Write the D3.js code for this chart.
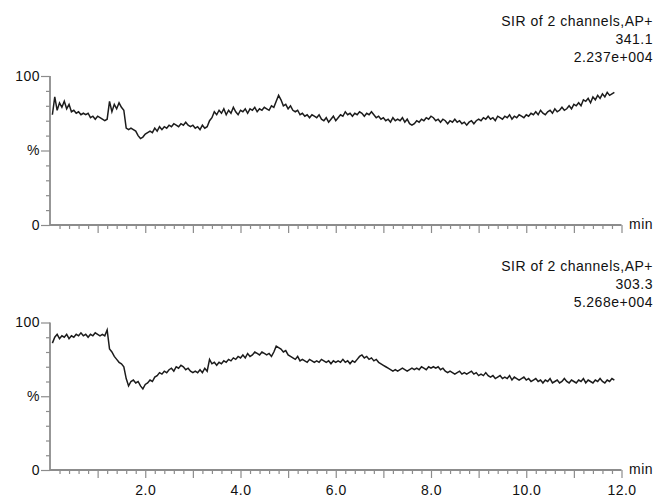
<!DOCTYPE html>
<html>
<head>
<meta charset="utf-8">
<script src="https://cdn.jsdelivr.net/npm/d3@7"></script>
<style>
  html, body { margin: 0; padding: 0; background: #fff; }
  svg { display: block; }
  text { font-family: "Liberation Sans", Arial, sans-serif; fill: #111; }
</style>
</head>
<body>
<div id="chart"></div>
<script>
// ---- data (relative intensity %, sampled every 0.05 min from 0.05 min) ----
const sampleStart = 0.05;
const sampleStep = 0.05;

const topValues = [
  74,86,77,82,79,83,78,81,76,77,75,76,74,75,74,75,72,73,71,73,
  72,71,70,71,83,76,81,78,82,79,77,65,64,65,64,63,60,58,59,61,
  62,63,62,65,63,66,64,66,65,67,66,68,67,66,68,67,69,67,66,67,
  65,66,64,67,65,66,70,72,76,74,77,75,78,74,77,75,79,76,74,77,
  76,78,75,78,77,79,76,78,77,79,78,77,80,79,83,87,84,80,81,78,
  80,77,76,77,74,75,73,74,72,74,73,72,74,71,70,72,69,71,73,70,
  72,74,73,76,74,75,73,75,74,76,75,73,75,74,76,74,72,73,71,72,
  70,71,69,72,70,71,70,72,69,71,68,67,68,70,69,71,70,72,71,73,
  72,70,71,69,71,70,68,70,69,71,69,70,68,69,67,69,70,68,70,71,
  70,72,71,73,71,72,70,73,72,71,73,72,74,71,73,72,74,73,72,74,
  73,75,74,76,74,77,75,74,76,77,75,78,76,77,79,77,78,80,78,81,
  80,82,80,84,83,85,82,86,84,87,85,88,86,89,87,88,89
];

const bottomValues = [
  86,90,92,89,91,90,92,89,91,90,92,91,93,91,92,90,92,91,93,92,
  91,92,91,95,82,80,77,75,73,72,70,62,57,60,61,59,60,57,55,58,
  59,61,60,63,64,66,65,67,66,68,69,67,70,69,71,70,68,69,67,66,
  67,66,68,66,69,67,75,72,73,71,73,72,74,73,75,74,76,75,77,76,
  78,76,79,77,78,80,79,78,80,79,78,79,77,80,84,83,82,80,81,78,
  77,76,75,77,74,75,74,73,75,74,73,74,73,75,74,73,74,72,74,73,
  74,73,75,73,74,72,74,73,75,77,78,76,77,75,76,74,75,73,72,71,
  70,69,68,67,68,67,68,69,68,67,68,69,68,69,68,70,69,68,70,69,
  70,69,70,68,69,67,66,67,66,65,66,67,65,66,65,66,67,65,66,64,
  65,64,66,64,63,64,62,63,64,62,63,62,64,61,63,62,61,62,63,61,
  62,60,61,62,60,61,59,61,60,62,59,60,61,59,60,62,60,59,61,60,
  59,61,60,62,59,61,60,59,61,60,62,60,59,61,60,62,61
];

const titleLines = [
  ["SIR of 2 channels,AP+", "341.1", "2.237e+004"],
  ["SIR of 2 channels,AP+", "303.3", "5.268e+004"]
];
const xLabelTicks = [2, 4, 6, 8, 10, 12];
const xLabelText = ["2.0", "4.0", "6.0", "8.0", "10.0", "12.0"];
const yMajorTicks = [0, 50, 100];
const yMajorText = ["0", "%", "100"];
const xUnit = "min";

// ---- layout ----
const W = 656, H = 498;
const svg = d3.select("#chart").append("svg").attr("width", W).attr("height", H);

const x = d3.scaleLinear().domain([0, 12]).range([50, 621.5]);
const panels = [
  { values: topValues, titles: titleLines[0], yTop: 76, yBot: 225, labels: false, titleY: 26 },
  { values: bottomValues, titles: titleLines[1], yTop: 322.5, yBot: 470, labels: true, titleY: 271 }
];

const axisColor = "#8c8c8c";

panels.forEach(p => {
  const y = d3.scaleLinear().domain([0, 100]).range([p.yBot, p.yTop]);
  const g = svg.append("g");

  // x minor ticks
  const minor = d3.range(1, 61).map(i => i / 5).filter(v => Math.abs(v - Math.round(v)) > 1e-6);
  const xMinor = g.append("g").attr("transform", `translate(0,${p.yBot})`)
    .call(d3.axisBottom(x).tickValues(minor).tickSize(4).tickSizeOuter(0).tickFormat(""));
  const xMajor = g.append("g").attr("transform", `translate(0,${p.yBot})`)
    .call(d3.axisBottom(x).tickValues(d3.range(1, 13)).tickSize(8).tickSizeOuter(0)
      .tickFormat(d => {
        if (!p.labels) return "";
        const i = xLabelTicks.indexOf(d);
        return i >= 0 ? xLabelText[i] : "";
      }));
  [xMinor, xMajor].forEach(a => {
    a.select(".domain").remove();
    a.selectAll("line").attr("stroke", axisColor).attr("stroke-width", 1.2);
  });
  xMajor.selectAll("text")
    .attr("y", 15).attr("dy", "0.71em")
    .style("font-size", "14px").style("letter-spacing", "0.5px")
    .attr("fill", "#111");

  // y minor ticks
  const yMinor = g.append("g").attr("transform", `translate(${x(0)},0)`)
    .call(d3.axisLeft(y).tickValues([10,20,30,40,60,70,80,90]).tickSize(4).tickSizeOuter(0).tickFormat(""));
  const yMajor = g.append("g").attr("transform", `translate(${x(0)},0)`)
    .call(d3.axisLeft(y).tickValues(yMajorTicks).tickSize(9).tickSizeOuter(0)
      .tickFormat(d => yMajorText[yMajorTicks.indexOf(d)]));
  [yMinor, yMajor].forEach(a => {
    a.select(".domain").remove();
    a.selectAll("line").attr("stroke", axisColor).attr("stroke-width", 1.2);
  });
  yMajor.selectAll("text")
    .attr("x", -10)
    .style("font-size", "14px").style("letter-spacing", "0.5px")
    .attr("fill", "#111");

  // axis lines
  g.append("line").attr("x1", x(0)).attr("x2", x(0)).attr("y1", p.yTop).attr("y2", p.yBot)
    .attr("stroke", axisColor).attr("stroke-width", 1.8);
  g.append("line").attr("x1", x(0)).attr("x2", x(12)).attr("y1", p.yBot).attr("y2", p.yBot)
    .attr("stroke", axisColor).attr("stroke-width", 1.8);

  // unit label
  g.append("text").attr("x", 629).attr("y", p.yBot + 4)
    .style("font-size", "14px").style("letter-spacing", "0.5px").text(xUnit);

  // titles
  p.titles.forEach((t, i) => {
    g.append("text").attr("x", 653).attr("y", p.titleY + i * 18)
      .attr("text-anchor", "end")
      .style("font-size", "14px").style("letter-spacing", "0.5px")
      .text(t);
  });

  // trace
  const line = d3.line()
    .x((d, i) => x(sampleStart + i * sampleStep))
    .y(d => y(d));
  g.append("path").datum(p.values)
    .attr("d", line)
    .attr("fill", "none")
    .attr("stroke", "#1c1c1c")
    .attr("stroke-width", 1.5)
    .attr("stroke-linejoin", "miter");
});
</script>
</body>
</html>
